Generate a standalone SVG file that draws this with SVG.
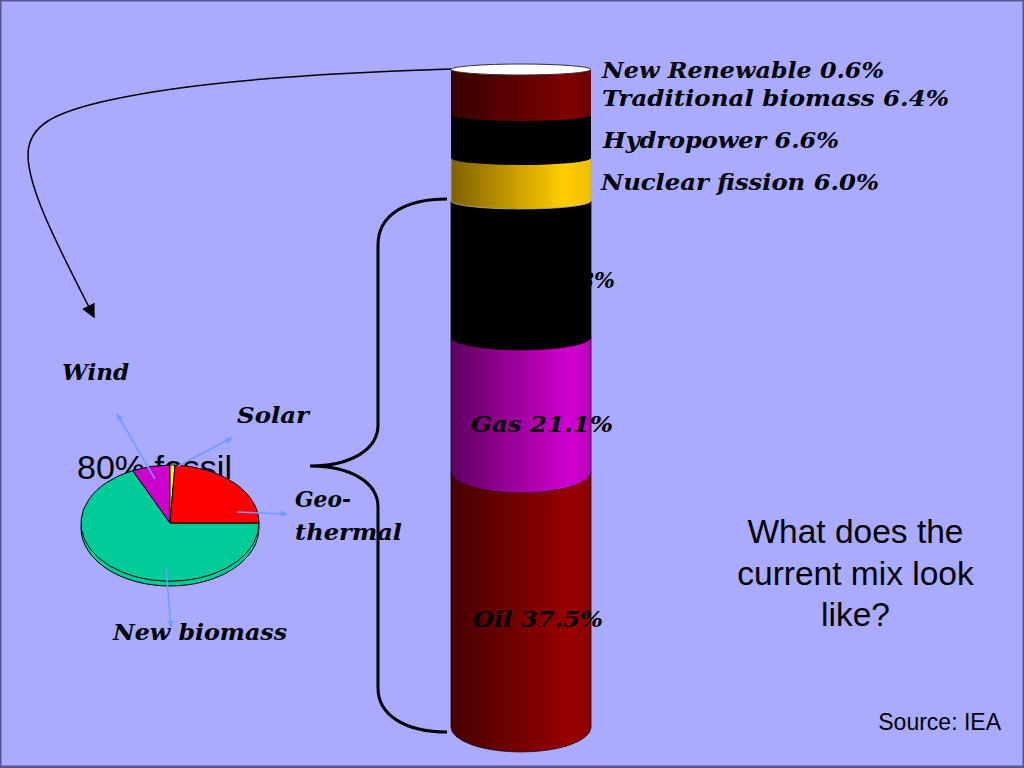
<svg xmlns="http://www.w3.org/2000/svg" width="1024" height="768" viewBox="0 0 1024 768">
<defs>
<style>
.lbl{font-family:"DejaVu Serif","Liberation Serif",serif;font-weight:bold;font-style:italic;font-size:22px;fill:#000}
.sans{font-family:"Liberation Sans",Arial,sans-serif;fill:#000}
.blue{stroke:#6f9cff;stroke-width:1.5;fill:none;marker-end:url(#ba)}
.pie{stroke:#000;stroke-width:1}
.band{stroke:#220000;stroke-width:0.8}
</style>
<marker id="ba" viewBox="0 0 10 10" refX="9" refY="5" markerWidth="7" markerHeight="7" orient="auto" markerUnits="userSpaceOnUse"><path d="M0,0 L10,5 L0,10 Z" fill="#6f9cff"/></marker>
<marker id="ka" viewBox="0 0 10 10" refX="9" refY="5" markerWidth="14" markerHeight="14" orient="auto" markerUnits="userSpaceOnUse"><path d="M0,0 L10,5 L0,10 Z" fill="#000"/></marker>
<linearGradient id="gRed" gradientUnits="userSpaceOnUse" x1="451" y1="0" x2="591" y2="0"><stop offset="0" stop-color="#380000"/><stop offset="0.85" stop-color="#800000"/><stop offset="1" stop-color="#6a0000"/></linearGradient>
<linearGradient id="gOil" gradientUnits="userSpaceOnUse" x1="451" y1="0" x2="591" y2="0"><stop offset="0" stop-color="#450000"/><stop offset="0.85" stop-color="#990000"/><stop offset="1" stop-color="#880000"/></linearGradient>
<linearGradient id="gMag" gradientUnits="userSpaceOnUse" x1="451" y1="0" x2="591" y2="0"><stop offset="0" stop-color="#600060"/><stop offset="0.85" stop-color="#d000d0"/><stop offset="1" stop-color="#b800b8"/></linearGradient>
<linearGradient id="gYel" gradientUnits="userSpaceOnUse" x1="451" y1="0" x2="591" y2="0"><stop offset="0" stop-color="#806000"/><stop offset="0.8" stop-color="#ffcc00"/><stop offset="1" stop-color="#f0c000"/></linearGradient>
</defs>
<rect x="0.75" y="0.75" width="1022.5" height="765.5" fill="#aaaaff" stroke="#55558f" stroke-width="1.5"/>
<rect x="0" y="766.5" width="1024" height="2" fill="#55558f"/>

<g id="connectors">
<path d="M 451 69 C 320 73, 190 82, 110 100 C 55 112, 28 125, 28 155 C 28 190, 60 250, 94 317" fill="none" stroke="#000" stroke-width="1.5" marker-end="url(#ka)"/>
<path d="M 447 199 C 405 199, 378 215, 378 245 L 378 425 C 378 450, 350 466, 310 466 C 350 466, 378 482, 378 507 L 378 688 C 378 715, 405 732, 447 732" fill="none" stroke="#000" stroke-width="3"/>
</g>

<g id="cylinder">
<path class="band" fill="url(#gOil)" d="M451 472 L591 472 L591 727 A70 25 0 0 1 451 727 Z"/>
<path class="band" fill="url(#gMag)" d="M451 337 L591 337 L591 472 A70 21 0 0 1 451 472 Z"/>
<path class="band" fill="#000" d="M451 201 L591 201 L591 337 A70 13 0 0 1 451 337 Z"/>
<path fill="url(#gYel)" stroke="#aaa" stroke-width="0.8" d="M451 158 L591 158 L591 201 A70 8 0 0 1 451 201 Z"/>
<path fill="#000" d="M451 115 L591 115 L591 158 A70 7 0 0 1 451 158 Z"/>
<path fill="url(#gRed)" d="M451 70 L591 70 L591 115 A70 6 0 0 1 451 115 Z"/>
<ellipse cx="521" cy="69.5" rx="70" ry="5.5" fill="#fff" stroke="#333" stroke-width="1"/>
</g>

<g id="cylinder-labels">
<text class="lbl" x="602" y="78" textLength="282" lengthAdjust="spacingAndGlyphs">New Renewable 0.6%</text>
<text class="lbl" x="602" y="106" textLength="347" lengthAdjust="spacingAndGlyphs">Traditional biomass 6.4%</text>
<text class="lbl" x="603" y="148" textLength="236" lengthAdjust="spacingAndGlyphs">Hydropower 6.6%</text>
<text class="lbl" x="601" y="190" textLength="278" lengthAdjust="spacingAndGlyphs">Nuclear fission 6.0%</text>
<text class="lbl" x="615" y="288" text-anchor="end">Coal 21.8%</text>
<text class="lbl" x="471" y="432" textLength="142" lengthAdjust="spacingAndGlyphs">Gas 21.1%</text>
<text class="lbl" x="473" y="627" textLength="130" lengthAdjust="spacingAndGlyphs">Oil 37.5%</text>
</g>

<g id="pie">
<text class="sans" x="77" y="479" font-size="34">80% fossil</text>
<ellipse class="pie" cx="170" cy="528" rx="89" ry="58" fill="#00cc99"/>
<path class="pie" fill="#00cc99" d="M170 523 L259 523 A89 58 0 1 1 132.7 470.6 Z"/>
<path class="pie" fill="#cc00cc" d="M170 523 L132.7 470.6 A89 58 0 0 1 170 465 Z"/>
<path class="pie" fill="#ffff00" d="M170 523 L170 465 A89 58 0 0 1 175 465.1 Z"/>
<path class="pie" fill="#ff0000" d="M170 523 L175 465.1 A89 58 0 0 1 259 523 Z"/>
</g>

<g id="pie-leaders">
<path class="blue" d="M155 479 L117 414"/>
<path class="blue" d="M178 466 L232 438"/>
<path class="blue" d="M237 512 L287 514"/>
<path class="blue" d="M166 568 L171 627"/>
</g>

<g id="pie-labels">
<text class="lbl" x="62" y="380" textLength="67" lengthAdjust="spacingAndGlyphs">Wind</text>
<text class="lbl" x="237" y="423" textLength="72" lengthAdjust="spacingAndGlyphs">Solar</text>
<text class="lbl" x="295" y="507" textLength="56" lengthAdjust="spacingAndGlyphs">Geo-</text>
<text class="lbl" x="295" y="540" textLength="107" lengthAdjust="spacingAndGlyphs">thermal</text>
<text class="lbl" x="113" y="640" textLength="174" lengthAdjust="spacingAndGlyphs">New biomass</text>
</g>

<g id="question">
<text class="sans" font-size="33.5" text-anchor="middle"><tspan x="855.5" y="543">What does the</tspan><tspan x="855.5" y="585">current mix look</tspan><tspan x="855.5" y="626">like?</tspan></text>
</g>
<g id="source">
<text class="sans" x="1001" y="730" font-size="23" text-anchor="end">Source: IEA</text>
</g>
</svg>
